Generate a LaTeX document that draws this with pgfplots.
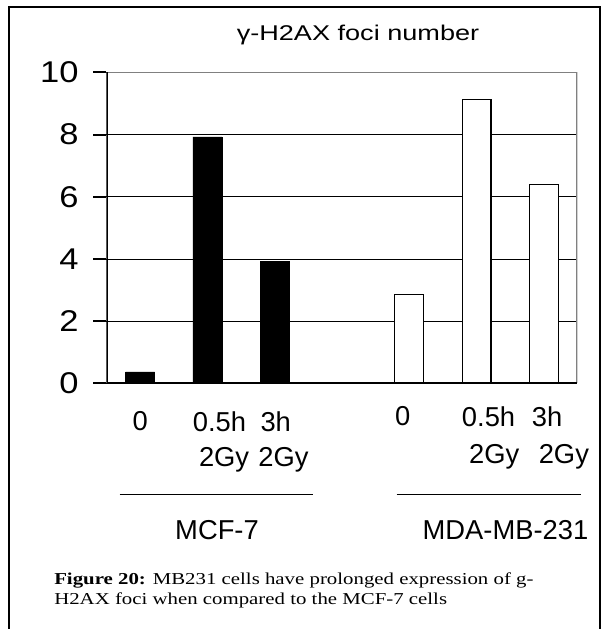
\documentclass[border=0pt]{standalone}
\usepackage{pgfplots}
\pgfplotsset{compat=1.18}
\usepackage{fontspec}
\setmainfont{Liberation Sans}
\newfontfamily\chartfont{Liberation Sans}
\newfontfamily\ytickfont[FakeStretch=1.15]{Liberation Sans}
\newfontfamily\titlefont[FakeStretch=1.27]{Liberation Sans}
\newfontfamily\capfont[FakeStretch=1.25]{Liberation Serif}
% shift a label line sideways by half of #1
\newcommand{\lbl}[2]{\makebox[0pt]{\hspace{#1}#2}}

\begin{document}
\begin{tikzpicture}
\begin{scope}[x=0.75pt, y=-0.75pt]
\useasboundingbox (0,0) rectangle (603,629);
% frame round the figure, open at the bottom
\draw[line width=1.6pt] (9,629) -- (9,7) -- (600,7) -- (600,629);
\node[font=\titlefont\fontsize{16}{16}\selectfont, anchor=base] at (358,40) {γ-H2AX foci number};
\end{scope}

\begin{axis}[
    at={(79.875pt,-287.6pt)}, anchor=south west,
    scale only axis,
    width=353.25pt, height=233.25pt,
    xmin=-0.5, xmax=6.5, ymin=0, ymax=10,
    ytick={0,2,4,6,8,10},
    ymajorgrids,
    grid style={black, line width=0.7pt},
    axis line style={draw=none},
    tick align=outside,
    major tick length=9.75pt,
    ytick pos=left,
    ytick style={draw=black, line width=1.5pt},
    xtick style={draw=none},
    /pgf/number format/assume math mode=true,
    yticklabel style={font=\ytickfont\fontsize{22.5}{22.5}\selectfont, inner sep=0pt, xshift=-11pt},
    xtick={0,1,2},
    xticklabels={0, {\lbl{18pt}{0.5h}\\\lbl{25pt}{2Gy}}, {\lbl{1.5pt}{3h}\\\lbl{13pt}{2Gy}}},
    xticklabel style={font=\chartfont\fontsize{20.5}{26.25}\selectfont, align=center, anchor=north, inner sep=0pt, yshift=-11pt},
    extra x ticks={4,5,6},
    extra x tick labels={{\lbl{-10pt}{0}}, {\lbl{18pt}{0.5h}\\\lbl{26.5pt}{2Gy}}, {\lbl{5pt}{3h}\\\lbl{30pt}{2Gy}}},
    extra x tick style={xticklabel style={yshift=3.75pt, font=\chartfont\fontsize{20.5}{27.75}\selectfont}},
]
% MCF-7
\addplot[ybar, bar width=0.43, bar shift=0pt, fill=black, draw=black]
    coordinates {(0,0.37) (1,7.93) (2,3.92)};
% MDA-MB-231
\addplot[ybar, bar width=0.43, bar shift=0pt, fill=white, draw=black, line width=0.9pt]
    coordinates {(4,2.86) (5,9.14) (6,6.40)};
\draw[color=black!50, line width=1.5pt] (rel axis cs:0,1) -- (rel axis cs:1,1) -- (rel axis cs:1,0);
\draw[black, line width=1.6pt] (rel axis cs:0,1) -- (rel axis cs:0,0) -- (rel axis cs:1,0);
\end{axis}

\begin{scope}[x=0.75pt, y=-0.75pt]
\draw[line width=0.8pt] (119.5,494.3) -- (313,494.3);
\draw[line width=0.8pt] (396.7,494.3) -- (581,494.3);
\node[font=\chartfont\fontsize{20.5}{20.5}\selectfont, anchor=base] at (217,539) {MCF-7};
\node[font=\chartfont\fontsize{20.5}{20.5}\selectfont, anchor=base] at (505.5,539) {MDA-MB-231};
\node[font=\capfont\fontsize{12.5}{12.5}\selectfont, anchor=base west, inner sep=0pt] at (54,584)
    {\textbf{Figure 20:} MB231 cells have prolonged expression of g-};
\node[font=\capfont\fontsize{12.5}{12.5}\selectfont, anchor=base west, inner sep=0pt] at (54,604)
    {H2AX foci when compared to the MCF-7 cells};
\end{scope}
\end{tikzpicture}
\end{document}
